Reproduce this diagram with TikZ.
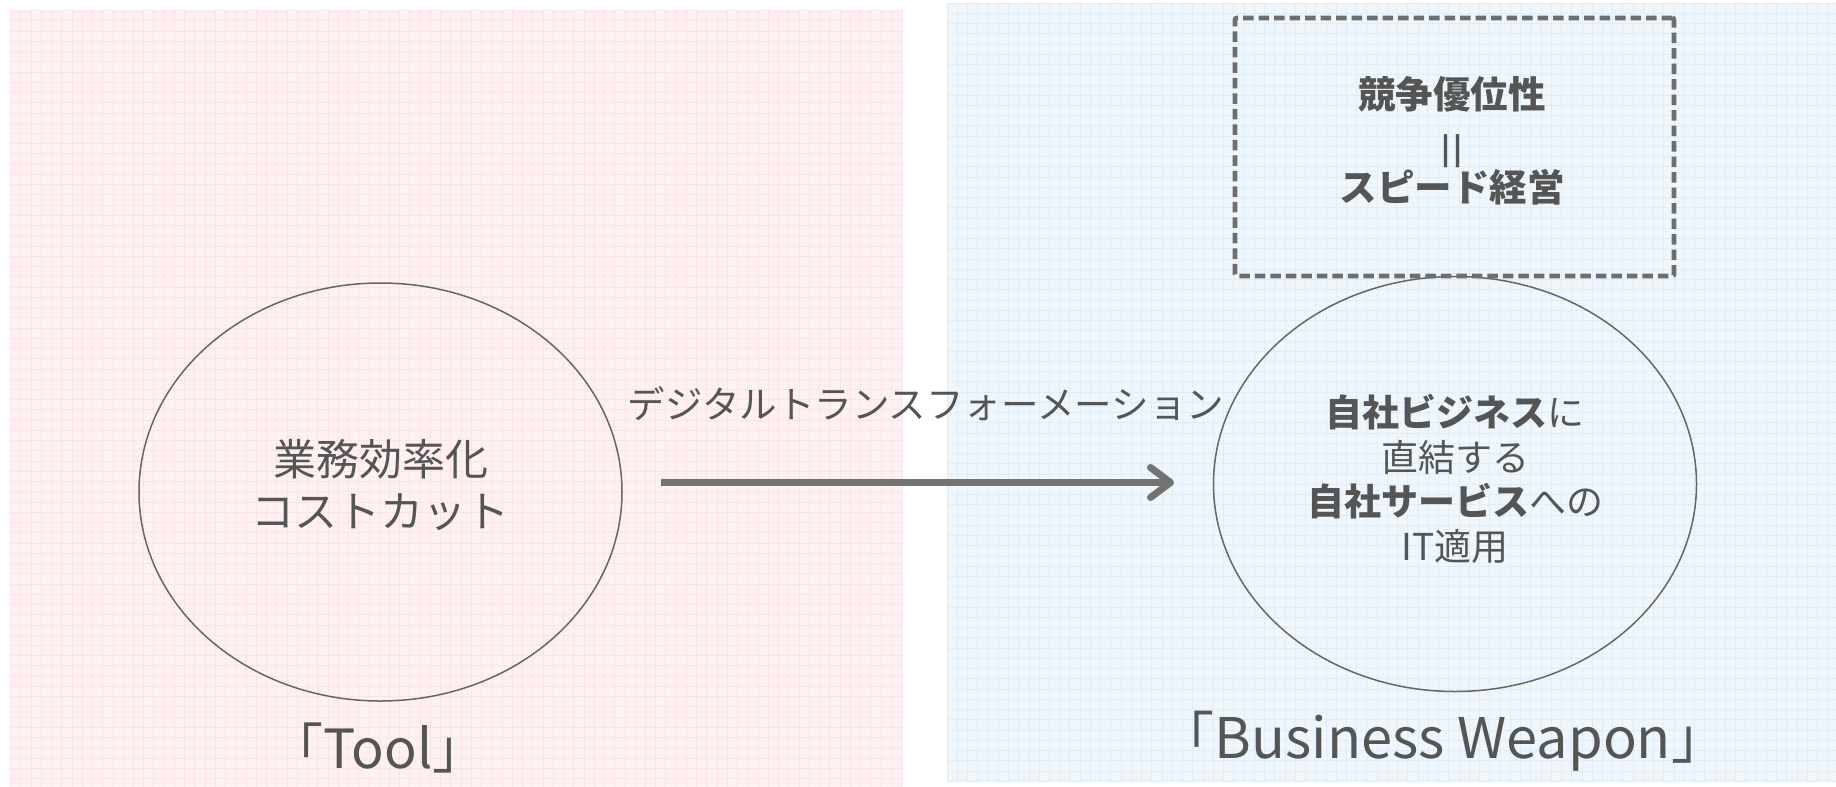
\documentclass[tikz,border=0pt]{standalone}
\usepackage{fontspec}
\setmainfont{Noto Sans CJK JP}
\usetikzlibrary{shapes.geometric,arrows.meta}
\definecolor{pinkbg}{HTML}{FFF1F2}
\definecolor{pinkgrid}{HTML}{FCE3E7}
\definecolor{bluebg}{HTML}{EFF7FC}
\definecolor{bluegrid}{HTML}{E0EDF8}
\definecolor{txt}{HTML}{555555}
\definecolor{edgec}{HTML}{666666}
\definecolor{arrc}{HTML}{737373}
\definecolor{dashc}{HTML}{6E6E6E}
\tikzset{
  panelgrid/.style={line width=0.8bp},
  bubble/.style={ellipse, draw=edgec, line width=1.5bp, inner sep=0pt},
  dashbox/.style={draw=dashc, line width=4.8bp, dash pattern=on 10.5bp off 5bp, rounded corners=2bp, inner sep=0pt},
  bigarrow/.style={draw=arrc, line width=7bp, -{Straight Barb[length=20bp,width=30bp,round]}},
  lbl/.style={text=txt, inner sep=0pt, align=center},
}
\begin{document}
\begin{tikzpicture}[x=1bp,y=-1bp]
\useasboundingbox (0,0) rectangle (1836,787);
% left panel
\fill[pinkbg] (10.5,10.5) rectangle (903,787);
\begin{scope}[shift={(10.5,10.5)}]
  \draw[pinkgrid,panelgrid,step=10.24bp] (0,0) grid (892.5,776.5);
\end{scope}
% right panel
\fill[bluebg] (947,3) rectangle (1836,782);
\begin{scope}[shift={(947,3)}]
  \draw[bluegrid,panelgrid,step=10.24bp] (0,0) grid (889,779);
\end{scope}
% ellipses
\node[bubble, minimum width=483bp, minimum height=418bp] (L) at (380.5,492) {};
\node[bubble, minimum width=483bp, minimum height=415bp] (R) at (1455,484) {};
\node[lbl, font=\fontsize{43bp}{51.5bp}\selectfont] (Ltxt) at (380.5,485) {業務効率化\\コストカット};
\node[lbl, font=\fontsize{37bp}{44.5bp}\selectfont] (Rtxt) at (1455,479) {\textbf{自社ビジネス}に\\直結する\\\textbf{自社サービス}への\\IT適用};
% dashed box
\node[dashbox, minimum width=439bp, minimum height=258bp] (box) at (1454.5,147) {};
\node[lbl, font=\fontsize{37.5bp}{44.5bp}\selectfont\bfseries] (boxtxt) at (1452,140.5) {競争優位性\\\raisebox{-7bp}{\fontsize{29bp}{29bp}\selectfont |\kern3bp|}\\スピード経営};
% arrow
\coordinate (as) at (661,482.5);
\coordinate (ae) at (1174,482.5);
\draw[bigarrow] (as) -- (ae);
\node[lbl, font=\fontsize{37.5bp}{44bp}\selectfont] (dx) at (926,404) {デジタルトランスフォーメーション};
% bottom labels
\node[lbl, font=\fontsize{54bp}{60bp}\selectfont] (tool) at (378,748) {「Tool」};
\node[lbl, font=\fontsize{56bp}{62bp}\selectfont] (bw) at (1443,741) {「Business Weapon」};
\end{tikzpicture}
\end{document}
